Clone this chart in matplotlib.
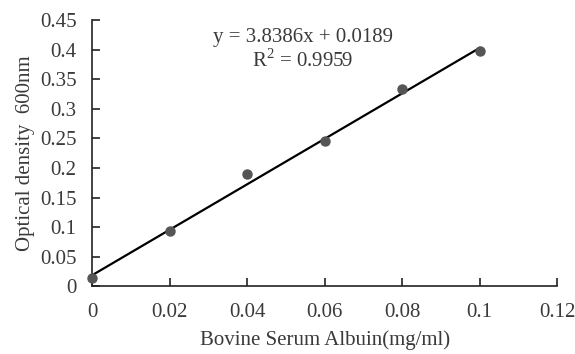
import matplotlib
matplotlib.use("Agg")
import matplotlib.pyplot as plt
import numpy as np

conc = [0.0, 0.02, 0.04, 0.06, 0.08, 0.10]
od = [0.015, 0.093, 0.190, 0.245, 0.333, 0.398]
slope = 3.8386
intercept = 0.0189
xticks = [0, 0.02, 0.04, 0.06, 0.08, 0.1, 0.12]
xticklabels = ["0", "0.02", "0.04", "0.06", "0.08", "0.1", "0.12"]
yticks = [0, 0.05, 0.1, 0.15, 0.2, 0.25, 0.3, 0.35, 0.4, 0.45]
yticklabels = ["0", "0.05", "0.1", "0.15", "0.2", "0.25", "0.3", "0.35", "0.4", "0.45"]

plt.rcParams['font.family'] = ['Liberation Serif', 'DejaVu Serif']
plt.rcParams['mathtext.fontset'] = 'custom'
plt.rcParams['mathtext.rm'] = 'Liberation Serif'
txt = '#3a3a3a'
fs = 15

fig = plt.figure(figsize=(5.75, 3.54), dpi=100)
ax = fig.add_axes([0.16, 0.1907, 0.809, 0.753])

xl = np.array([conc[0], conc[-1]])
ax.plot(xl, slope * xl + intercept, color='black', lw=1.6, zorder=2)
ax.plot(conc, od, 'o', color='#555555', ms=6.5, zorder=3, clip_on=False)

ax.set_xlim(0, 0.12)
ax.set_ylim(0, 0.45)
ax.set_xticks(xticks)
ax.set_xticklabels(xticklabels)
ax.set_yticks(yticks)
ax.set_yticklabels(yticklabels)
for s in ['top', 'right']:
    ax.spines[s].set_visible(False)
for s in ['left', 'bottom']:
    ax.spines[s].set_linewidth(1.2)
    ax.spines[s].set_color('#222222')
ax.tick_params(axis='x', direction='in', length=5.5, width=1.2, pad=12, labelsize=fs, labelcolor=txt, color='#222222')
ax.tick_params(axis='y', direction='in', length=5.5, width=1.2, pad=11, labelsize=fs, labelcolor=txt, color='#222222')

ax.set_xlabel("Bovine Serum Albuin(mg/ml)", fontsize=fs, color=txt, labelpad=6)
ax.set_ylabel("Optical density  600nm", fontsize=fs, color=txt, labelpad=4)

ax.text(0.0545, 0.421, f"y = {slope}x + {intercept}", fontsize=fs, color=txt, ha='center', va='center')
ax.text(0.0543, 0.382, "R$^2$ = 0.9959", fontsize=fs, color=txt, ha='center', va='center')

fig.savefig("out.png", dpi=100)
